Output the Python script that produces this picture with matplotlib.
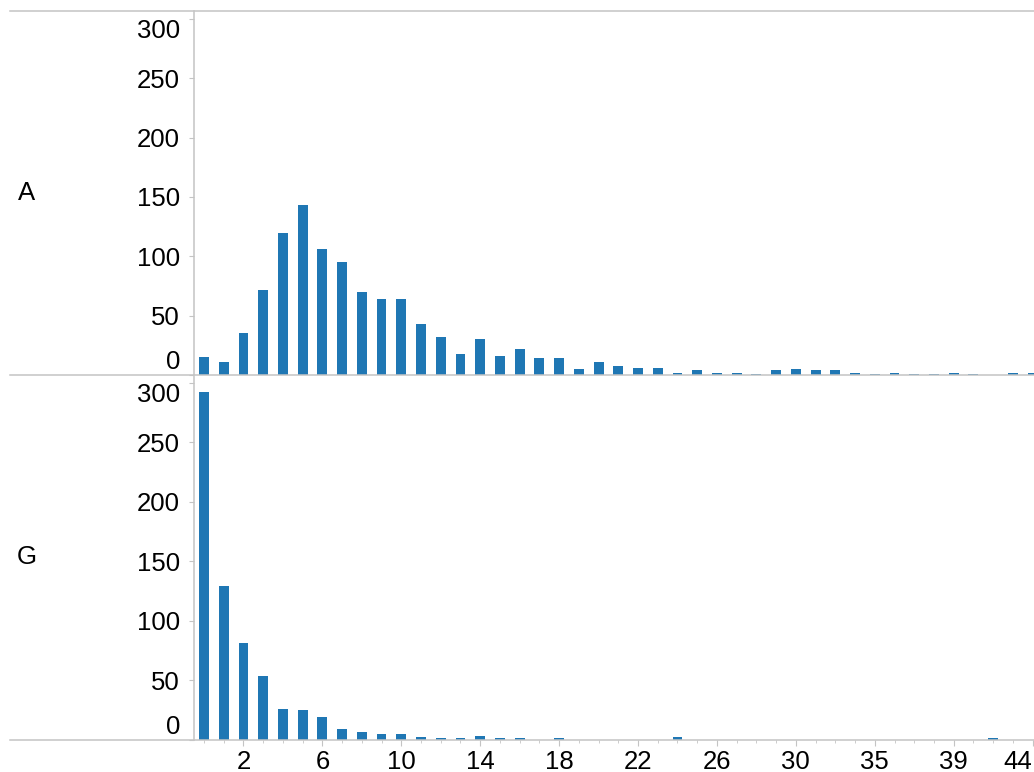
import matplotlib.pyplot as plt
import matplotlib.transforms as mtransforms
from matplotlib.lines import Line2D

plt.rcParams['font.family'] = ['Liberation Sans', 'DejaVu Sans']

# categories on the x axis (33 and 42 do not occur)
categories = [0, 1, 2, 3, 4, 5, 6, 7, 8, 9, 10, 11, 12, 13, 14, 15, 16, 17, 18, 19,
              20, 21, 22, 23, 24, 25, 26, 27, 28, 29, 30, 31, 32, 34, 35, 36, 37, 38,
              39, 40, 41, 43, 44]

counts_a = [15, 11, 35, 72, 120, 143, 106, 95, 70, 64, 64, 43, 32, 18, 30, 16, 22, 14,
            14, 5, 11, 8, 6, 6, 2, 4, 2, 2, 1, 4, 5, 4, 4, 2, 1, 2, 1, 1, 2, 1, 0, 2, 2]

counts_g = [292, 129, 81, 53, 26, 25, 19, 9, 6, 5, 5, 2, 1, 1, 3, 1, 1, 0, 1, 0, 0, 0,
            0, 0, 2, 0, 0, 0, 0, 0, 0, 0, 0, 0, 0, 0, 0, 0, 0, 0, 1, 0, 0]

panels = ['A', 'G']
yticks = [0, 50, 100, 150, 200, 250, 300]

W, H = 1034, 772
fig = plt.figure(figsize=(W / 100, H / 100), dpi=100)

grey = '#c4c4c4'
blue = '#1f77b4'
fs = 18.5

left_px, right_px = 194, 1034
rows = [(11, 375), (375, 739.5)]
xpos = list(range(len(categories)))

for (top, bot), name, counts in zip(rows, panels, [counts_a, counts_g]):
    ax = fig.add_axes([left_px / W, 1 - bot / H, (right_px - left_px) / W, (bot - top) / H])
    ax.bar(xpos, counts, width=0.5, color=blue)
    ax.set_xlim(-0.507, 42.07)
    ax.set_ylim(0, 306.6)
    for s in ['top', 'right', 'bottom']:
        ax.spines[s].set_visible(False)
    ax.spines['left'].set_color(grey)
    ax.spines['left'].set_linewidth(1.1)

    ax.set_yticks(yticks)
    ax.set_yticklabels([str(v) for v in yticks])
    ax.tick_params(axis='y', length=3.6, width=0.8, color=grey, pad=6.5, labelsize=fs)
    labels = ax.get_yticklabels()
    labels[0].set_va('baseline')
    labels[0].set_transform(mtransforms.offset_copy(labels[0].get_transform(), fig=fig, y=6, units='dots'))
    labels[-1].set_va('top')

    major = xpos[2::4]
    ax.set_xticks(major)
    ax.set_xticks(xpos, minor=True)
    if name == 'G':
        ax.set_xticklabels([str(categories[i]) for i in major])
        ax.get_xticklabels()[-1].set_ha('right')
        ax.tick_params(axis='x', which='major', length=4, width=0.8, color=grey, pad=3.5, labelsize=fs)
        ax.tick_params(axis='x', which='minor', length=2, width=0.6, color=grey)
    else:
        ax.tick_params(axis='x', which='both', length=0, labelbottom=False)

    fig.text(27 / W, 1 - ((top + bot) / 2) / H, name, ha='center', va='center', fontsize=fs)

# horizontal rules across the whole figure
for y in [11, 375, 739.5]:
    fig.add_artist(Line2D([10 / W, 1], [1 - y / H, 1 - y / H], color=grey, lw=1.1))

fig.savefig('out.png', dpi=100)
